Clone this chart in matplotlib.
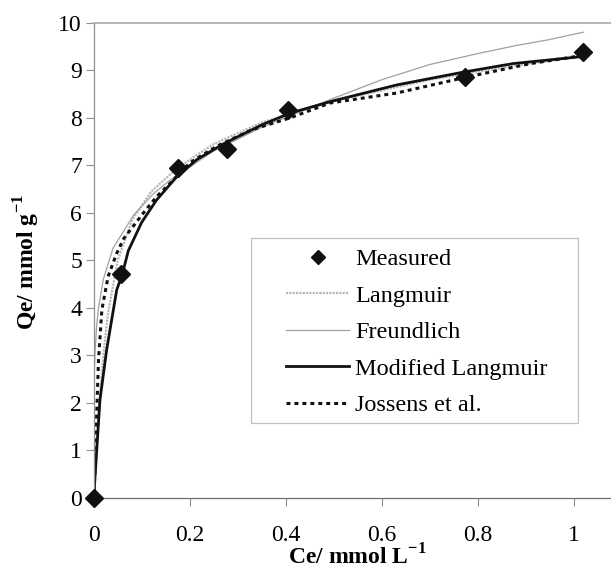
import matplotlib
matplotlib.use('Agg')
import matplotlib.pyplot as plt
from matplotlib.patches import Rectangle

plt.rcParams['font.family'] = ['Liberation Serif', 'DejaVu Serif']
plt.rcParams['mathtext.fontset'] = 'custom'
plt.rcParams['mathtext.rm'] = 'Liberation Serif'
plt.rcParams['mathtext.bf'] = 'Liberation Serif:bold'

# measured isotherm points
ce_meas = [0, 0.057, 0.175, 0.278, 0.405, 0.773, 1.02]
qe_meas = [0, 4.71, 6.94, 7.35, 8.17, 8.86, 9.38]

# model curves
ce_lang = [0, 0.01, 0.02, 0.03, 0.05, 0.08, 0.12, 0.175, 0.25, 0.35, 0.5, 0.7, 0.85, 1.02]
qe_lang = [0, 1.7, 3.0, 3.9, 5.0, 5.85, 6.45, 6.95, 7.45, 7.9, 8.35, 8.8, 9.05, 9.3]

ce_freu = [0, 0.001, 0.003, 0.006, 0.01, 0.02, 0.04, 0.083, 0.124, 0.159, 0.25, 0.35, 0.492,
           0.6, 0.7, 0.8, 0.88, 0.947, 1.02]
qe_freu = [0, 2.6, 3.1, 3.6, 4.0, 4.6, 5.25, 5.95, 6.4, 6.69, 7.3, 7.8, 8.38,
           8.8, 9.12, 9.35, 9.52, 9.64, 9.8]

ce_mod = [0, 0.005, 0.013, 0.027, 0.048, 0.06, 0.072, 0.1, 0.131, 0.173, 0.215, 0.27, 0.35, 0.41,
          0.493, 0.631, 0.77, 0.874, 1.02]
qe_mod = [0, 0.8, 2.06, 3.12, 4.38, 4.72, 5.2, 5.8, 6.27, 6.76, 7.12, 7.45, 7.85, 8.1,
          8.34, 8.69, 8.96, 9.14, 9.29]

ce_joss = [0, 0.003, 0.006, 0.01, 0.017, 0.03, 0.048, 0.062, 0.103, 0.131, 0.159, 0.2, 0.256,
           0.33, 0.41, 0.492, 0.631, 0.77, 0.91, 1.006]
qe_joss = [0, 0.66, 1.71, 2.9, 3.96, 4.66, 5.15, 5.45, 5.99, 6.34, 6.62, 7.05, 7.4,
           7.75, 8.0, 8.31, 8.52, 8.84, 9.14, 9.29]

W, H = 611, 569
fig = plt.figure(figsize=(W / 100, H / 100), dpi=100)
ax = fig.add_axes([93.7 / W, 1 - 498 / H, 1 - 93.7 / W, (498 - 22.7) / H])

ax.plot(ce_lang, qe_lang, color='#b8b8b8', lw=1.6, dashes=(1, 0.5), label='Langmuir')
ax.plot(ce_freu, qe_freu, color='#a0a0a0', lw=0.9, label='Freundlich')
ax.plot(ce_mod, qe_mod, color='#111111', lw=2.0, label='Modified Langmuir')
ax.plot(ce_joss, qe_joss, color='#111111', lw=2.2, dashes=(1.3, 1.3), label='Jossens et al.')
ax.plot(ce_meas, qe_meas, 'D', color='#111111', ms=9, label='Measured', clip_on=False, zorder=5)

ax.set_xlim(0, (W - 93.7) / 480)
ax.set_ylim(0, 10)
ax.set_xticks([0, 0.2, 0.4, 0.6, 0.8, 1])
ax.set_xticklabels(['0', '0.2', '0.4', '0.6', '0.8', '1'])
ax.set_yticks(range(0, 11))

ax.spines['right'].set_visible(False)
ax.spines['top'].set_color('#b0b0b0')
ax.spines['top'].set_linewidth(1.3)
ax.spines['left'].set_color('#909090')
ax.spines['left'].set_linewidth(0.9)
ax.spines['bottom'].set_color('#707070')
ax.spines['bottom'].set_linewidth(0.9)
ax.tick_params(axis='both', direction='out', length=5.5, width=0.8, color='#909090', labelsize=17)
ax.tick_params(axis='x', pad=14)
ax.tick_params(axis='y', pad=3)

fig.text(357 / W, 1 - 557 / H, r'Ce/ mmol L$^{\mathbf{-1}}$', fontsize=17, fontweight='bold',
         ha='center', va='center')
fig.text(27 / W, 1 - 262 / H, r'Qe/ mmol g$^{\mathbf{-1}}$', fontsize=17, fontweight='bold',
         ha='center', va='center', rotation=90)

# legend: entries without frame, box drawn separately
h, l = ax.get_legend_handles_labels()
order = [4, 0, 1, 2, 3]
leg = ax.legend([h[i] for i in order], [l[i] for i in order], loc='upper left',
                bbox_to_anchor=(286 / W, 1 - 248 / H), bbox_transform=fig.transFigure,
                frameon=False, fontsize=17.5, handlelength=2.6, handletextpad=0.25,
                labelspacing=0.6, borderpad=0, borderaxespad=0, markerscale=0.8)
fig.patches.append(Rectangle((251 / W, 1 - 423 / H), (578 - 251) / W, (423 - 238) / H,
                             transform=fig.transFigure, fill=False, edgecolor='#c0c0c0', lw=0.9))

fig.savefig('out.png', dpi=100)
